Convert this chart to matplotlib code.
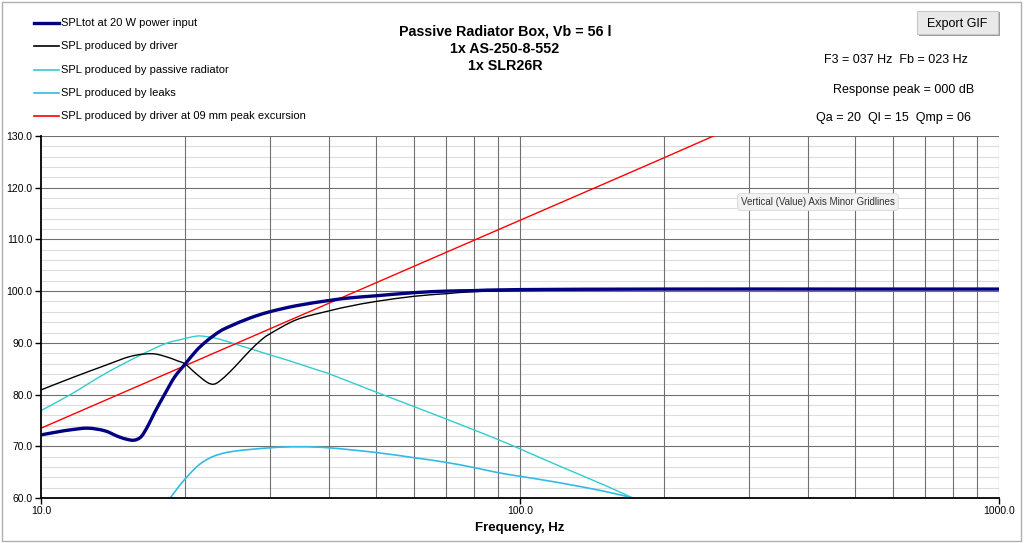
import matplotlib
matplotlib.use("Agg")
import numpy as np
import matplotlib.pyplot as plt
from matplotlib.lines import Line2D
from matplotlib.patches import Rectangle, PathPatch
from matplotlib.path import Path

plt.rcParams['font.family'] = ['Liberation Sans', 'DejaVu Sans']

# ---------------- data ----------------
f_tot = [10, 10.85, 11.57, 12.53, 13.58, 14.48, 15.19, 15.69, 16.2, 16.73, 17.28,
         18.13, 19.01, 20, 21.1, 22.2, 23.6, 24.8, 27.3, 30, 34.2, 40, 44.2, 50, 60,
         70, 80, 100, 200, 500, 1000]
spl_tot = [72.2, 72.8, 73.2, 73.5, 73.0, 71.9, 71.3, 71.2, 71.9, 74.0, 76.6,
           80.1, 83.4, 85.9, 88.5, 90.4, 92.2, 93.2, 94.8, 96.0, 97.2, 98.2, 98.7,
           99.1, 99.7, 100.0, 100.1, 100.3, 100.4, 100.4, 100.4]

f_drv = [10, 11.57, 13.58, 15.4, 16.99, 18.13, 19.3, 20, 21.1, 22.2, 22.9, 23.6,
         24.8, 26.0, 27.3, 28.7, 30, 34.2, 40, 44.2, 50, 60, 70, 80, 100, 150, 200,
         500, 1000]
spl_drv = [80.9, 83.2, 85.6, 87.4, 87.9, 87.4, 86.5, 85.9, 84.0, 82.4, 82.0, 82.6,
           84.4, 86.4, 88.5, 90.4, 91.7, 94.5, 96.2, 97.1, 98.0, 99.0, 99.5, 99.9,
           100.1, 100.3, 100.4, 100.4, 100.4]

f_pr = [10, 11.57, 13.58, 15.94, 18.13, 19.5, 21.1, 22.2, 23.6, 26.0, 30, 33.1,
        38.2, 40, 50, 60, 70, 80, 90, 100, 120, 150, 172]
spl_pr = [76.9, 80.1, 84.0, 87.4, 89.8, 90.6, 91.3, 91.2, 90.7, 89.5, 87.7, 86.5,
          84.6, 84.0, 80.5, 77.7, 75.3, 73.2, 71.3, 69.5, 66.3, 62.5, 60.0]

f_leak = [18.6, 20, 21.8, 24.4, 30, 34.7, 40, 50, 60, 70, 80, 90, 100, 120, 150, 172]
spl_leak = [60.0, 63.7, 67.0, 68.8, 69.7, 69.9, 69.7, 68.8, 67.8, 66.9, 65.9, 64.9,
            64.2, 63.0, 61.3, 60.0]

f_exc = [10, 20, 50, 100, 200, 300]
spl_exc = [73.5, 85.6, 101.6, 113.7, 125.8, 133.0]

labels = ["SPLtot at 20 W power input",
          "SPL produced by driver",
          "SPL produced by passive radiator",
          "SPL produced by leaks",
          "SPL produced by driver at 09 mm peak excursion"]
colors = ["#000080", "#000000", "#33CCCC", "#33BBE6", "#FF0000"]
widths = [2.4, 1.0, 1.0, 1.2, 1.0]

x_ticks = [10, 100, 1000]
x_ticklabels = ["10.0", "100.0", "1000.0"]
x_minor = [20, 30, 40, 50, 60, 70, 80, 90, 200, 300, 400, 500, 600, 700, 800, 900]
y_ticks = [60, 70, 80, 90, 100, 110, 120, 130]
y_minor = list(range(60, 131, 2))

title_lines = ["Passive Radiator Box, Vb = 56 l", "1x AS-250-8-552", "1x SLR26R"]
info_lines = ["F3 = 037 Hz  Fb = 023 Hz", "Response peak = 000 dB", "Qa = 20  Ql = 15  Qmp = 06"]


def smooth_path(xs, ys):
    """Excel-style smoothed line: Bezier segments through the data points
    (control points computed in log-frequency space)."""
    lx = np.log10(np.asarray(xs, float))
    yy = np.asarray(ys, float)
    n = len(lx)
    verts = [(xs[0], ys[0])]
    codes = [Path.MOVETO]
    for i in range(n - 1):
        p0 = max(i - 1, 0)
        p3 = min(i + 2, n - 1)
        c1x = lx[i] + (lx[i + 1] - lx[p0]) / 6.0
        c1y = yy[i] + (yy[i + 1] - yy[p0]) / 6.0
        c2x = lx[i + 1] - (lx[p3] - lx[i]) / 6.0
        c2y = yy[i + 1] - (yy[p3] - yy[i]) / 6.0
        verts += [(10 ** c1x, c1y), (10 ** c2x, c2y), (xs[i + 1], ys[i + 1])]
        codes += [Path.CURVE4] * 3
    return Path(verts, codes)


# ---------------- figure ----------------
W, H = 1024, 543
fig = plt.figure(figsize=(W / 100, H / 100), dpi=100)
fig.patch.set_facecolor("white")


def fx(px):
    return px / W


def fy(py):
    return 1 - py / H


# chart area border
fig.add_artist(Rectangle((fx(2), fy(541)), fx(1019), 539 / H, transform=fig.transFigure,
                         fill=False, edgecolor="#b0b0b0", linewidth=1.0))

ax = fig.add_axes([fx(41), fy(498), fx(999 - 41), (498 - 136) / H])
ax.set_xscale("log")
ax.set_xlim(10, 1000)
ax.set_ylim(60, 130)

series = [(f_tot, spl_tot), (f_drv, spl_drv), (f_pr, spl_pr), (f_leak, spl_leak), (f_exc, spl_exc)]
zorders = [6, 4, 3, 3, 3.5]
for i in [4, 3, 2, 1, 0]:
    xs, ys = series[i]
    patch = PathPatch(smooth_path(xs, ys), facecolor="none", edgecolor=colors[i],
                      linewidth=widths[i], capstyle="round", joinstyle="round",
                      zorder=zorders[i])
    ax.add_patch(patch)
ax.set_xlim(10, 1000)
ax.set_ylim(60, 130)

# grid lines
for v in y_minor:
    if v % 10 != 0:
        ax.axhline(v, color="#dcdcdc", linewidth=0.8, zorder=1)
for v in y_ticks[1:]:
    ax.axhline(v, color="#707070", linewidth=0.8, zorder=1.5)
for v in x_minor + [100, 1000]:
    ax.axvline(v, color="#707070", linewidth=0.8, zorder=1.5)

ax.set_xticks(x_ticks)
ax.set_xticklabels(x_ticklabels)
ax.xaxis.set_minor_locator(matplotlib.ticker.NullLocator())
ax.set_yticks(y_ticks)
ax.set_yticklabels([f"{v:.1f}" for v in y_ticks])
ax.tick_params(axis="both", which="major", labelsize=7.5, length=4, width=1.0,
               direction="out", color="black", pad=2)
for s in ["top", "right"]:
    ax.spines[s].set_visible(False)
for s in ["left", "bottom"]:
    ax.spines[s].set_linewidth(1.3)
    ax.spines[s].set_zorder(7)
ax.set_xlabel("Frequency, Hz", fontsize=9.5, fontweight="bold", labelpad=4)

# legend (manual)
leg_y = [23, 46, 70, 93, 116]
for i, lab in enumerate(labels):
    fig.add_artist(Line2D([fx(34), fx(59)], [fy(leg_y[i])] * 2, transform=fig.transFigure,
                          color=colors[i], linewidth=2.4 if i == 0 else 1.2))
    fig.text(fx(61), fy(leg_y[i]), lab, fontsize=8, va="center", ha="left")

# title
for i, t in enumerate(title_lines):
    fig.text(fx(505), fy(32 + 17 * i), t, fontsize=10.3, fontweight="bold", ha="center", va="center")

# info text
info_x = [896, 904, 893]
info_y = [60, 90, 118]
for t, x, y in zip(info_lines, info_x, info_y):
    fig.text(fx(x), fy(y), t, fontsize=9, ha="center", va="center")

# Export GIF button
fig.add_artist(Rectangle((fx(919), fy(36)), fx(81), 24 / H, transform=fig.transFigure,
                         facecolor="#9a9a9a", edgecolor="none"))
fig.add_artist(Rectangle((fx(917), fy(34)), fx(81), 23 / H, transform=fig.transFigure,
                         facecolor="#e9e9e9", edgecolor="#c8c8c8", linewidth=0.8))
fig.text(fx(957), fy(23.5), "Export GIF", fontsize=9, ha="center", va="center")

# tooltip
fig.text(fx(741), fy(202), "Vertical (Value) Axis Minor Gridlines", fontsize=7,
         ha="left", va="center", color="#333333",
         bbox=dict(boxstyle="round,pad=0.35,rounding_size=0.3", facecolor="#f2f2f2",
                   edgecolor="#d8d8d8", linewidth=0.6))

fig.savefig("out.png", dpi=100)
